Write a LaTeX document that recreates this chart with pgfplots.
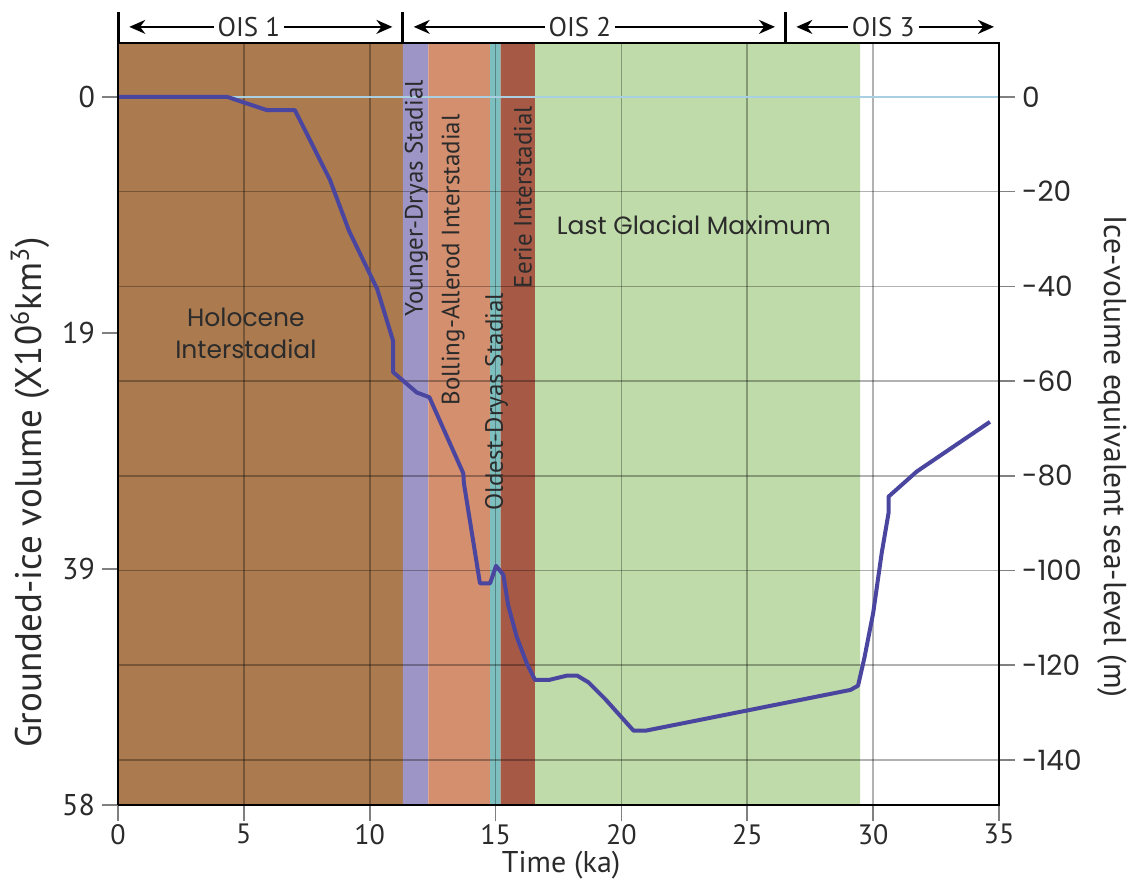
\documentclass[border=0pt]{standalone}
\usepackage{fontspec}
\setmainfont{PT Sans}
\newfontfamily\pop{Poppins}
\usepackage{pgfplots}
\pgfplotsset{compat=1.18}
\usetikzlibrary{arrows.meta}
\definecolor{holo}{HTML}{AB7A4F}
\definecolor{yd}{HTML}{9E95C7}
\definecolor{ba}{HTML}{D48F6F}
\definecolor{od}{HTML}{7DBEBE}
\definecolor{ee}{HTML}{A65A46}
\definecolor{lgm}{HTML}{BFDBA9}
\definecolor{curve}{HTML}{4A46A0}
\definecolor{zeroline}{HTML}{A9CFE3}
\definecolor{txt}{HTML}{2B2B2B}
\begin{document}
\begin{tikzpicture}
\begin{axis}[
  at={(0,0)}, anchor=south west,
  scale only axis, width=440.5pt, height=381pt,
  xmin=0, xmax=35, ymin=-149.5, ymax=11.4,
  set layers, clip=false,
  axis line style={line width=0.8pt},
  xtick={0,5,...,35}, xticklabels={0,5,10,15,20,25,30,35},
  xtick pos=bottom, xtick style={line width=0.8pt},
  xticklabel style={font=\fontsize{14}{16}\selectfont, text=txt, yshift=2pt},
  ytick={-20,-40,-60,-80,-100,-120,-140},
  yticklabels={-20,-40,-60,-80,-100,-120,-140},
  extra y ticks={0}, extra y tick labels={0},
  extra y tick style={grid style={zeroline, line width=0.8pt, opacity=1}},
  ytick pos=right, yticklabel pos=right,
  tick align=outside, major tick length=8pt,
  ytick style={line width=0.8pt},
  yticklabel style={font=\pop\fontsize{14}{16}\selectfont, text=txt},
  grid=major, grid style={black, opacity=0.3, line width=0.8pt},
  every axis y label/.style={at={(axis description cs:1.128,0.457)}, rotate=-90, anchor=center, font=\fontsize{15.8}{18}\selectfont, text=txt},
  ylabel={Ice-volume equivalent sea-level (m)},
  every axis x label/.style={at={(axis description cs:0.503,-0.079)}, anchor=center, font=\fontsize{15}{18}\selectfont, text=txt},
  xlabel={Time (ka)},
]
% climate bands
\addplot[fill=holo, draw=none, on layer=axis background] coordinates {(0,-149.5) (0,11.4) (11.32,11.4) (11.32,-149.5) (0,-149.5)};
\addplot[fill=yd, draw=none, on layer=axis background] coordinates {(11.32,-149.5) (11.32,11.4) (12.33,11.4) (12.33,-149.5) (11.32,-149.5)};
\addplot[fill=ba, draw=none, on layer=axis background] coordinates {(12.33,-149.5) (12.33,11.4) (14.78,11.4) (14.78,-149.5) (12.33,-149.5)};
\addplot[fill=od, draw=none, on layer=axis background] coordinates {(14.78,-149.5) (14.78,11.4) (15.2,11.4) (15.2,-149.5) (14.78,-149.5)};
\addplot[fill=ee, draw=none, on layer=axis background] coordinates {(15.2,-149.5) (15.2,11.4) (16.57,11.4) (16.57,-149.5) (15.2,-149.5)};
\addplot[fill=lgm, draw=none, on layer=axis background] coordinates {(16.57,-149.5) (16.57,11.4) (29.48,11.4) (29.48,-149.5) (16.57,-149.5)};
% ice volume curve
\addplot[curve, line width=2pt, line join=round] coordinates {
(0,0) (4.35,0) (5.93,-2.8) (7.03,-2.8) (8.42,-17.5) (9.18,-28.3) (10.3,-40.6)
(10.93,-51.5) (10.93,-58.1) (11.87,-62.4) (12.37,-63.4) (13.72,-79.5) (13.74,-81.5)
(14.38,-102.7) (14.78,-102.7) (15.02,-99.0) (15.31,-100.9) (15.5,-107.3) (15.84,-114)
(16.24,-119.6) (16.57,-123.1) (17.12,-123.1) (17.82,-122.2) (18.25,-122.2) (18.69,-123.6)
(19.35,-127.1) (20.48,-133.8) (20.97,-133.8) (29.1,-125.2) (29.4,-124.3) (29.65,-118.5)
(30.0,-109) (30.34,-96.3) (30.61,-87.9) (30.61,-84.4) (31.73,-79.1) (34.64,-68.6)};
% labels
\node[text=txt, font=\pop\fontsize{12.5}{16}\selectfont, align=center] at (axis cs:5.08,-50) {Holocene\\Interstadial};
\node[text=txt, font=\pop\fontsize{12.5}{15}\selectfont] at (axis cs:22.88,-27) {Last Glacial Maximum};
\node[text=txt, font=\fontsize{12.5}{15}\selectfont, rotate=90] at (axis cs:11.85,-21.4) {Younger-Dryas Stadial};
\node[text=txt, font=\fontsize{12.5}{15}\selectfont, rotate=90] at (axis cs:13.31,-34.4) {Bolling-Allerod Interstadial};
\node[text=txt, font=\fontsize{12.5}{15}\selectfont, rotate=90] at (axis cs:15.04,-64.4) {Oldest-Dryas Stadial};
\node[text=txt, font=\fontsize{12.5}{15}\selectfont, rotate=90] at (axis cs:16.09,-21.1) {Eerie Interstadial};
% OIS brackets
\draw[line width=1.5pt] (axis cs:0,11.4) -- (axis cs:0,17.9);
\draw[line width=1.5pt] (axis cs:11.3,11.4) -- (axis cs:11.3,17.9);
\draw[line width=1.5pt] (axis cs:26.5,11.4) -- (axis cs:26.5,17.9);
\draw[line width=1pt, {Stealth[length=8pt,width=7pt]}-{Stealth[length=8pt,width=7pt]}] (axis cs:0.45,14.8) -- (axis cs:10.9,14.8);
\draw[line width=1pt, {Stealth[length=8pt,width=7pt]}-{Stealth[length=8pt,width=7pt]}] (axis cs:11.75,14.8) -- (axis cs:26.1,14.8);
\draw[line width=1pt, {Stealth[length=8pt,width=7pt]}-{Stealth[length=8pt,width=7pt]}] (axis cs:26.95,14.8) -- (axis cs:34.8,14.8);
\node[fill=white, inner sep=2pt, text=txt, font=\fontsize{13.5}{15}\selectfont] at (axis cs:5.2,14.8) {OIS 1};
\node[fill=white, inner sep=2pt, text=txt, font=\fontsize{13.5}{15}\selectfont] at (axis cs:18.35,14.8) {OIS 2};
\node[fill=white, inner sep=2pt, text=txt, font=\fontsize{13.5}{15}\selectfont] at (axis cs:30.4,14.8) {OIS 3};
\end{axis}
\begin{axis}[
  at={(0,0)}, anchor=south west,
  scale only axis, width=440.5pt, height=381pt,
  xmin=0, xmax=35, ymin=-149.5, ymax=11.4,
  hide x axis,
  ytick={0,-49.8,-99.7,-149.5}, yticklabels={0,19,39,58},
  ytick pos=left, tick align=outside, major tick length=8pt,
  ytick style={line width=0.8pt},
  axis line style={line width=0.8pt},
  yticklabel style={font=\fontsize{15}{17}\selectfont, text=txt},
  every axis y label/.style={at={(axis description cs:-0.1,0.41)}, rotate=90, anchor=center, font=\fontsize{18.5}{21}\selectfont, text=txt},
  ylabel={Grounded-ice volume (X10\textsuperscript{6}km\textsuperscript{3})},
]
\addplot[draw=none] coordinates {(0,0) (1,-1)};
\end{axis}
\pgfresetboundingbox
\useasboundingbox (-59pt,-38.5pt) rectangle (505.5pt,402.5pt);
\end{tikzpicture}
\end{document}
